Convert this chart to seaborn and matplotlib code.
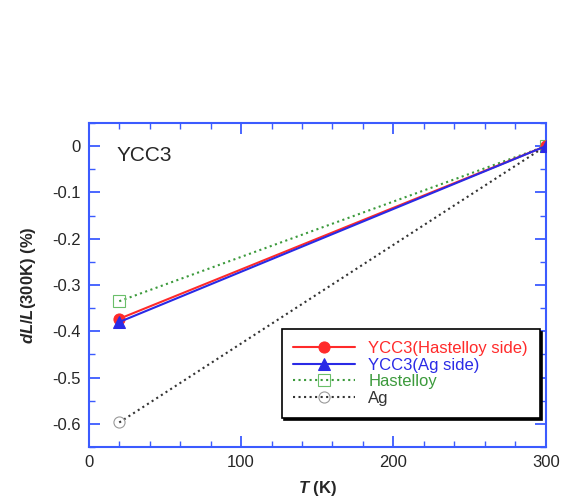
import matplotlib
matplotlib.use('Agg')
import matplotlib.pyplot as plt
import seaborn as sns
import pandas as pd
from matplotlib.ticker import MultipleLocator

T = [20, 300]
ycc3_hast = [-0.373, 0.0]
ycc3_ag = [-0.380, 0.0]
hastelloy = [-0.335, 0.0]
ag = [-0.597, 0.0]

labels = ['YCC3(Hastelloy side)', 'YCC3(Ag side)', 'Hastelloy', 'Ag']
colors = ['#ff2a2a', '#2a2ae6', '#3c9a3c', '#333333']

sns.set_style('ticks')
plt.rcParams['font.family'] = ['Liberation Sans', 'DejaVu Sans']
plt.rcParams['mathtext.fontset'] = 'custom'
plt.rcParams['mathtext.it'] = 'Liberation Sans:italic'
plt.rcParams['mathtext.bf'] = 'Liberation Sans:bold'
plt.rcParams['mathtext.bfit'] = 'Liberation Sans:bold:italic'

fig = plt.figure(figsize=(5.62, 4.98), dpi=100)
ax = fig.add_axes([0.158, 0.1024, 0.813, 0.6506])

df = pd.DataFrame({'T': T, 'a': ycc3_hast, 'b': ycc3_ag, 'c': hastelloy, 'd': ag})

sns.lineplot(data=df, x='T', y='a', ax=ax, color=colors[0], lw=1.5, marker='o',
             markersize=8, markeredgecolor=colors[0], label=labels[0], zorder=4)
sns.lineplot(data=df, x='T', y='b', ax=ax, color=colors[1], lw=1.5, marker='^',
             markersize=8, markeredgecolor=colors[1], label=labels[1], zorder=5)
sns.lineplot(data=df, x='T', y='c', ax=ax, color=colors[2], lw=1.5, ls=':', marker='s',
             markersize=8, markerfacecolor='none', markeredgecolor='#6abf6a', mew=0.8,
             label=labels[2], zorder=3)
sns.lineplot(data=df, x='T', y='d', ax=ax, color=colors[3], lw=1.5, ls=':', marker='o',
             markersize=8, markerfacecolor='none', markeredgecolor='#999999', mew=0.8,
             label=labels[3], zorder=2)

ax.set_xlim(0, 300)
ax.set_ylim(-0.65, 0.05)
ax.xaxis.set_major_locator(MultipleLocator(100))
ax.xaxis.set_minor_locator(MultipleLocator(20))
ax.yaxis.set_minor_locator(MultipleLocator(0.05))
ax.set_yticks([0, -0.1, -0.2, -0.3, -0.4, -0.5, -0.6])
ax.set_yticklabels(['0', '-0.1', '-0.2', '-0.3', '-0.4', '-0.5', '-0.6'])

for s in ax.spines.values():
    s.set_color('#3b5bff')
    s.set_linewidth(1.5)
ax.tick_params(which='both', direction='in', top=True, right=True, color='#3b5bff',
               labelsize=12, pad=6)
ax.tick_params(which='major', length=8, width=1.3)
ax.tick_params(which='minor', length=4, width=1.0)

ax.set_xlabel(r'$\mathbfit{T}$ (K)', fontsize=12, fontweight='bold', labelpad=6)
ax.set_ylabel(r'$\mathbfit{dL}$/$\mathbfit{L}$(300K) (%)', fontsize=12,
              fontweight='bold', labelpad=10)

ax.text(0.06, 0.9, 'YCC3', transform=ax.transAxes, fontsize=15, va='center')

leg = ax.legend(loc='lower right', bbox_to_anchor=(1.005, 0.065), fontsize=12,
                frameon=True, fancybox=False, shadow={'color': 'black', 'alpha': 1},
                edgecolor='black', framealpha=1, handlelength=3.7,
                borderpad=0.7, labelspacing=0.1)
leg.get_frame().set_linewidth(1.2)
for txt, c in zip(leg.get_texts(), colors):
    txt.set_color(c)

fig.savefig('out.png', dpi=100)
